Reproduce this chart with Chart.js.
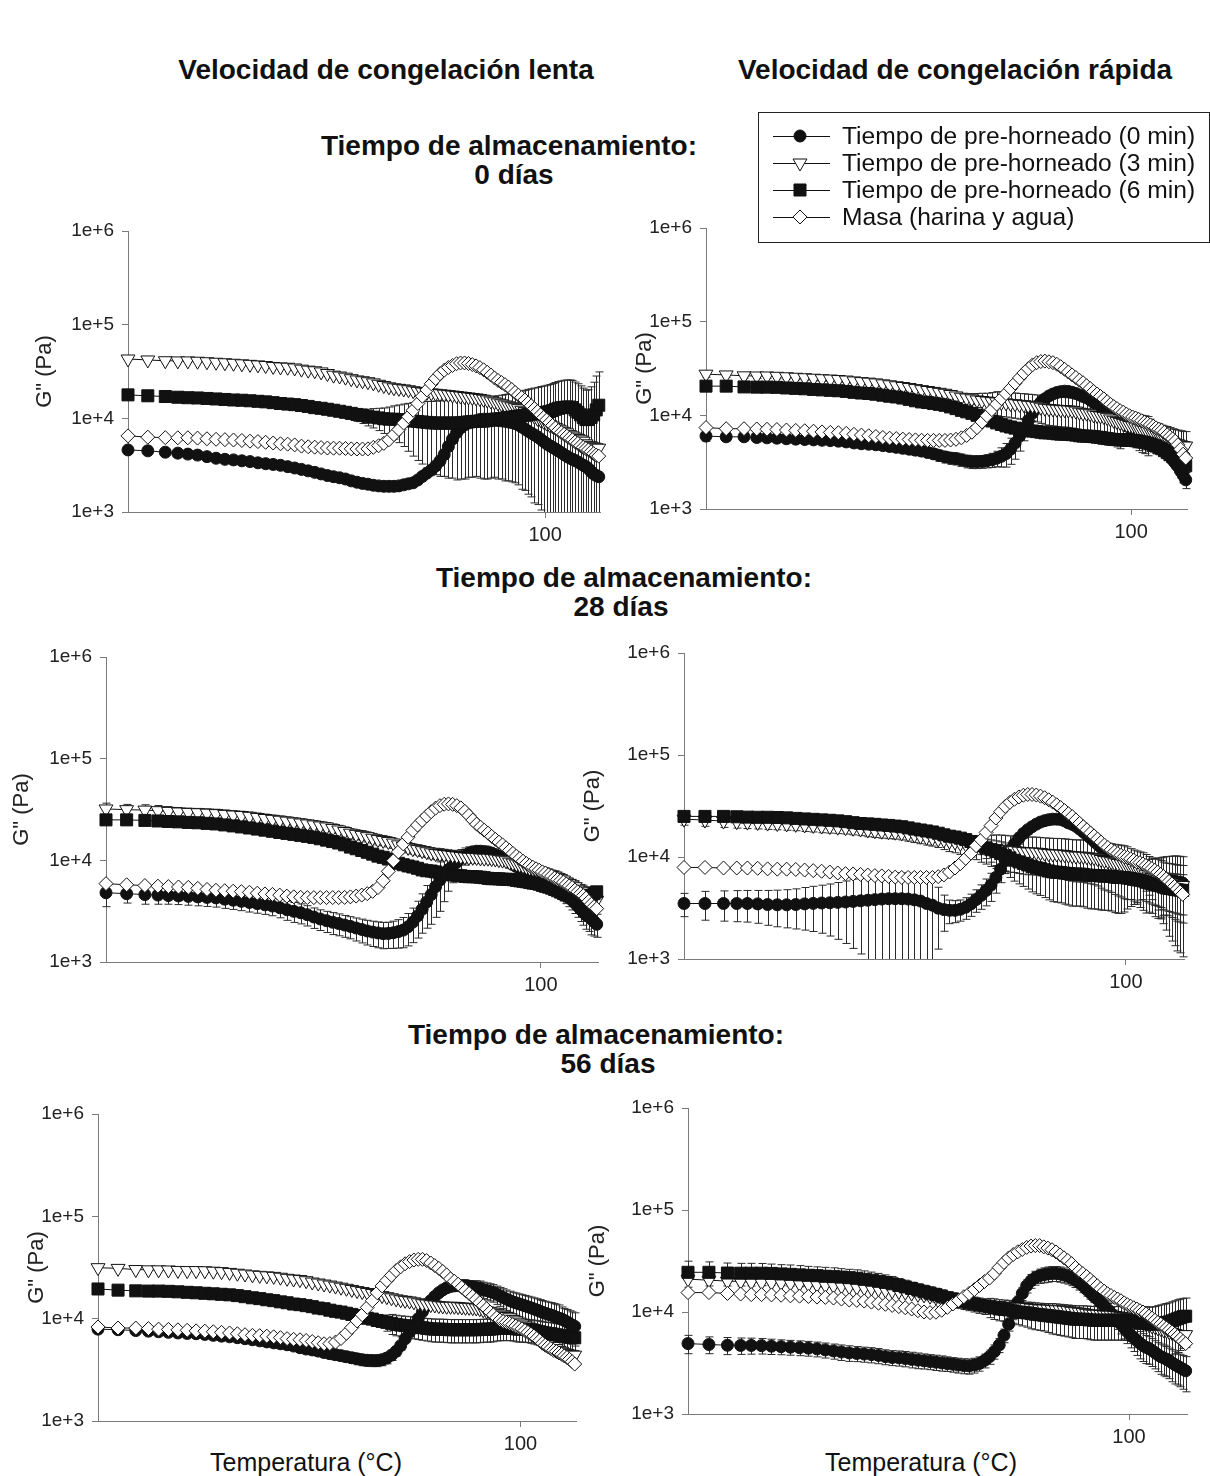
<!DOCTYPE html>
<html lang="es">
<head>
<meta charset="utf-8">
<title>G'' frente a temperatura</title>
<script src="https://cdn.jsdelivr.net/npm/chart.js@4.4.1/dist/chart.umd.min.js"></script>
<style>
  html, body { margin: 0; padding: 0; background: #fff; }
  body { position: relative; width: 1210px; height: 1476px; overflow: hidden;
         font-family: "Liberation Sans", Arial, sans-serif; color: #111; }
  .label { position: absolute; white-space: nowrap; text-align: center; width: 800px; }
  .head { font-weight: bold; font-size: 28px; line-height: 30px; }
  .axis { font-size: 25px; line-height: 28px; }
  canvas { position: absolute; }
</style>
</head>
<body>
<script>
// Temperature of each reading (°C); the first few are further apart
const temps = [25,26.7,28.3,29.5,30.5,31.5,32.5,33.5,34.5,35.5,
  36.5,37.5,38.5,39.5,40.5,41.5,42.5,43.5,44.5,45.5,
  46.5,47.5,48.5,49.5,50.5,51.5,52.5,53.5,54.5,55.5,
  56.5,57.5,58.5,59.5,60.5,61.5,62.5,63.5,64.5,65.5,
  66.5,67.5,68.5,69.5,70.5,71.5,72.5,73.5,74.5,75.5,
  76.5,77.5,78.5,79.5,80.5,81.5,82.5,83.5,84.5,85.5,
  86.5,87.5,88.5,89.5,90.5,91.5,92.5,93.5,94.5,95.5,
  96.5,97.5,98.5,99.5,100.5,101.5,102.5,103.5,104.5,105.5,
  106.5,107.5,108.5,109.5,110.5,111.5,112.5,113.5,114.5,115.5,
  116.5,117.5,118.5,119.5];

const yTickValues = [1e3, 1e4, 1e5, 1e6];
const yTickLabels = ['1e+3', '1e+4', '1e+5', '1e+6'];
const xTickValues = [100];
const xTickLabels = ['100'];

const seriesNames = [
  'Tiempo de pre-horneado (0 min)',
  'Tiempo de pre-horneado (3 min)',
  'Tiempo de pre-horneado (6 min)',
  'Masa (harina y agua)'
];

// ---- slow freezing, 0 days (G'' in Pa) ----
const slow0Pre0 = [4600,4500,4350,4250,4150,4050,3900,3750,3650,3600,
  3520,3450,3350,3280,3220,3150,3050,2950,2850,2750,
  2650,2550,2450,2380,2320,2250,2150,2080,2020,1980,
  1930,1900,1880,1880,1880,1900,1950,2000,2050,2200,
  2400,2600,2800,3100,3500,4100,5000,6000,7000,7900,
  8500,8900,9200,9400,9700,9800,9800,9800,9600,9500,
  9400,9300,9150,9000,8800,8500,8100,7700,7300,6950,
  6650,6350,6000,5650,5350,5100,4900,4700,4500,4300,
  4100,3930,3780,3650,3550,3420,3280,3150,3050,2900,
  2700,2550,2450,2380];
const slow0Pre3 = [43000,42000,41200,41000,41000,40700,40200,39700,39200,38700,
  38200,37700,37200,36600,35800,35400,35100,34500,33500,32700,
  32200,31300,30100,28900,28300,27500,26500,25700,25200,24600,
  23900,23100,22400,21700,21200,20900,20600,20200,19700,19400,
  19100,18900,18700,18500,18300,18100,17900,17700,17500,17300,
  17100,16900,16700,16500,16300,16000,15700,15300,15000,14600,
  14300,13900,13600,13300,13000,12700,12200,11800,11400,11000,
  10500,10000,9700,9300,8900,8600,8300,8000,7700,7500,
  7200,7000,6700,6500,6300,6100,5900,5700,5350,5150,
  5050,4950,4850,4800];
const slow0Pre6 = [17800,17400,17100,16800,16600,16500,16300,16100,15900,15700,
  15600,15400,15200,15000,14700,14400,14200,14000,13700,13400,
  13000,12800,12500,12200,11900,11600,11300,11000,10700,10400,
  10300,10100,9900,9800,9800,9700,9600,9450,9350,9250,
  9150,9050,8950,8900,8900,8900,8900,8900,8900,8950,
  9050,9150,9250,9300,9300,9350,9450,9600,9750,9850,
  9950,10050,10150,10300,10450,10550,10650,10800,10950,11050,
  11150,11300,11450,11550,11650,11850,12100,12500,12800,13000,
  13100,13200,13200,13000,12300,11600,10900,10200,9700,9700,
  10200,10900,12300,13800];
const slow0Pre6Sd = [800,800,800,800,800,800,800,800,800,800,
  800,800,800,800,800,800,850,900,900,900,
  1000,1000,1100,1200,1300,1400,1500,1700,1900,2100,
  2400,2700,3000,3400,3800,4200,4600,5000,5400,5700,
  5900,6100,6200,6400,6500,6500,6600,6600,6700,6700,
  6800,6800,6900,6900,7000,7100,7200,7300,7400,7600,
  7700,7900,8000,8200,8400,8600,8900,9100,9400,9600,
  9900,10100,10400,10600,10900,11100,11400,11600,11900,12100,
  12400,12500,12500,12400,12100,11800,11300,10800,10300,10500,
  11500,13400,16000,17500];
const slow0Masa = [6500,6300,6220,6200,6200,6150,6050,5970,5920,5870,
  5800,5700,5650,5550,5450,5350,5300,5200,5050,4970,
  4920,4870,4820,4800,4800,4770,4720,4700,4700,4720,
  4900,5100,5400,5900,6700,7600,8900,10400,12200,14400,
  17200,20100,23400,26600,29900,32600,34900,36700,38300,39000,
  39000,38500,37500,36300,34800,33000,31000,29000,27000,25400,
  24100,22900,21600,20300,18900,17700,16700,15700,14600,13600,
  12700,11800,10900,10200,9600,9000,8400,7900,7400,7050,
  6750,6450,6150,5900,5600,5400,5100,4900,4750,4600,
  4400,4200,4050,3950];

// ---- fast freezing, 0 days ----
const fast0Pre0 = [6000,5900,5900,5800,5750,5700,5620,5570,5520,5470,
  5420,5370,5300,5200,5070,4970,4920,4850,4750,4650,
  4550,4450,4350,4250,4150,4020,3880,3730,3600,3500,
  3450,3350,3250,3200,3200,3220,3270,3350,3480,3650,
  3900,4350,5050,6000,7300,8800,10600,12300,13800,15000,
  16100,16900,17500,17900,18100,18000,17600,17100,16500,15900,
  15400,14600,13700,12900,12300,11700,11000,10400,9800,9250,
  8750,8300,7800,7400,7050,6750,6450,6200,6000,5800,
  5500,5300,5000,4800,4600,4300,4000,3650,3350,3100,
  2850,2550,2300,2050];
const fast0Pre0Sd = [700,600,600,580,560,550,550,550,550,550,
  520,500,500,500,500,500,500,500,500,500,
  500,500,500,500,500,500,500,500,500,500,
  500,500,500,500,500,500,520,580,650,850,
  1100,1350,1650,1850,1950,2000,2000,1950,1850,1720,
  1580,1500,1500,1420,1280,1200,1200,1200,1200,1200,
  1200,1200,1200,1200,1200,1200,1200,1200,1200,1200,
  1130,1080,1030,980,930,880,830,780,730,680,
  630,600,600,580,530,500,500,480,430,400,
  400,400,400,400];
const fast0Pre3 = [27500,27000,26400,26300,26300,26100,25800,25500,25200,24900,
  24600,24400,24100,23800,23300,22900,22600,22200,21700,21200,
  20700,20300,19800,19300,18800,18400,18000,17600,17200,16700,
  16100,15600,15300,15000,14600,14400,14200,14000,13900,13700,
  13600,13400,13300,13100,13000,12800,12700,12500,12200,11900,
  11800,11700,11600,11500,11500,11400,11300,11100,10800,10600,
  10550,10400,10100,9950,9850,9700,9450,9150,8850,8600,
  8400,8200,8000,7800,7700,7500,7200,7000,6900,6700,
  6600,6400,6300,6100,5850,5700,5600,5400,5200,5050,
  4950,4850,4750,4700];
const fast0Pre3Sd = [2000,1500,1500,1500,1500,1500,1500,1500,1500,1500,
  1500,1500,1500,1500,1500,1500,1500,1500,1500,1500,
  1500,1500,1500,1500,1500,1500,1500,1500,1500,1500,
  1500,1500,1500,2000,2500,2800,3000,3500,4000,4000,
  4000,4000,4000,4000,4000,4000,4000,4000,4000,4000,
  4000,4000,4000,4000,4000,4000,4000,4000,4000,4000,
  4000,4000,4000,4000,4000,4000,4000,4000,4000,4000,
  4000,3500,3000,3000,3000,3000,3000,3000,3000,3000,
  2500,2000,2000,2000,2000,2000,2000,2000,2000,2000,
  2000,2000,2000,2000];
const fast0Pre6 = [20500,20500,20100,20000,20000,19900,19600,19400,19200,18900,
  18700,18500,18300,18000,17600,17300,17100,16800,16400,16000,
  15700,15300,14800,14300,13900,13700,13400,13100,12800,12300,
  11800,11300,10900,10500,10000,9600,9100,8700,8300,8000,
  7700,7500,7300,7100,6950,6850,6800,6700,6600,6500,
  6500,6450,6350,6300,6300,6270,6220,6150,6050,6000,
  6000,5970,5920,5850,5800,5700,5650,5570,5520,5500,
  5500,5470,5420,5400,5400,5350,5300,5200,5150,5050,
  4950,4800,4700,4500,4400,4200,4000,3800,3650,3450,
  3300,3150,3000,2900];
const fast0Masa = [7400,7200,7200,7150,7100,7050,6970,6900,6850,6770,
  6650,6570,6520,6420,6270,6150,6050,5950,5800,5700,
  5650,5570,5520,5470,5420,5400,5400,5400,5400,5450,
  5550,5750,6100,6600,7400,8500,9900,11500,13200,15100,
  17100,19400,22100,25100,28300,31500,34500,36500,37500,37900,
  37300,36500,35100,33100,31000,29000,27000,25300,23700,22300,
  20700,19400,18000,16900,15900,15000,14000,13100,12400,11800,
  11200,10800,10300,9900,9600,9350,9050,8750,8450,8200,
  7900,7650,7350,7100,6900,6600,6200,5900,5600,5300,
  4850,4350,3850,3500];

// ---- slow freezing, 28 days ----
const slow28Pre0 = [4800,4700,4600,4550,4500,4470,4420,4370,4320,4270,
  4150,4050,3950,3850,3750,3650,3550,3420,3270,3150,
  3050,2920,2770,2650,2550,2460,2390,2310,2240,2160,
  2090,2020,1970,1930,1900,1910,1940,1990,2060,2220,
  2470,2840,3300,3900,4600,5500,6400,7300,8100,8900,
  9600,10400,11100,11700,12100,12300,12300,12200,12100,11800,
  11400,10950,10450,9950,9500,9100,8700,8350,8050,7700,
  7400,7100,6900,6700,6450,6200,6000,5800,5600,5350,
  5050,4800,4550,4300,4050,3800,3550,3300,3100,2900,
  2800,2650,2500,2350];
const slow28Pre0Sd = [1300,900,900,850,800,800,800,800,800,800,
  780,760,750,750,730,710,700,700,700,700,
  680,660,630,610,600,600,580,560,550,550,
  550,550,550,550,550,550,580,620,680,780,
  920,1120,1380,1750,2250,2750,3250,3380,3130,2880,
  2630,2380,2130,1880,1630,1430,1280,1150,1050,980,
  920,900,900,900,900,900,900,900,900,900,
  900,900,900,850,800,800,800,800,800,800,
  800,800,800,800,800,800,800,800,800,800,
  800,800,700,600];
const slow28Pre3 = [32000,31500,31200,30800,30300,29900,29600,29400,29100,28800,
  28300,27900,27600,27100,26400,25800,25300,24800,24300,23800,
  23300,22800,22300,21800,21300,20600,19900,19200,18500,18000,
  17600,17100,16500,16000,15700,15300,14800,14200,13800,13400,
  13000,12750,12450,12150,11850,11650,11550,11400,11300,11150,
  11050,10900,10800,10700,10700,10650,10550,10500,10500,10400,
  10300,10150,10050,9900,9600,9400,9200,9000,8800,8600,
  8400,8200,8000,7850,7700,7500,7300,7100,7000,6800,
  6600,6400,6100,5900,5700,5500,5200,5000,4900,4700,
  4500,4300,4200,4050];
const slow28Pre3Sd = [4500,4000,4000,3800,3500,3200,3000,3000,3000,3000,
  3000,2900,2800,2800,2800,2700,2600,2550,2500,2450,
  2400,2350,2300,2250,2200,2200,2200,2100,2000,2000,
  2000,1950,1900,1850,1800,1750,1700,1650,1600,1550,
  1500,1500,1500,1500,1500,1500,1500,1450,1400,1400,
  1400,1350,1300,1300,1300,1250,1200,1200,1200,1200,
  1200,1150,1100,1100,1100,1050,1000,1000,1000,1000,
  1000,950,900,900,900,900,900,900,900,850,
  800,800,800,800,800,800,800,800,800,800,
  800,800,800,800];
const slow28Pre6 = [25000,25000,24700,24400,24100,23900,23600,23400,23100,22800,
  22300,21800,21300,20800,20300,19800,19300,18800,18400,18000,
  17600,17200,16800,16300,15800,15300,14800,14200,13500,13000,
  12500,12000,11500,11000,10700,10300,9750,9350,9050,8800,
  8600,8350,8050,7900,7850,7700,7500,7350,7250,7180,
  7120,7050,6950,6900,6900,6880,6820,6750,6650,6600,
  6600,6580,6520,6500,6500,6450,6350,6280,6220,6150,
  6050,5970,5920,5820,5670,5550,5450,5320,5170,5020,
  4870,4720,4570,4450,4350,4250,4150,4100,4100,4170,
  4320,4500,4700,4900];
const slow28Masa = [5900,5750,5650,5570,5520,5470,5420,5300,5170,5080,
  5020,4970,4920,4850,4750,4670,4620,4550,4450,4380,
  4330,4300,4300,4300,4300,4300,4300,4320,4370,4450,
  4550,4700,4950,5400,6300,7800,9900,12100,14500,16900,
  19700,22200,24700,27300,30100,32600,34500,35600,35900,35500,
  34500,32800,30300,27600,24900,22700,21200,19800,18500,17200,
  16100,15100,14200,13300,12500,11700,11000,10400,9800,9300,
  8900,8550,8250,8000,7700,7500,7200,7000,6700,6500,
  6300,6100,5850,5600,5400,5100,4900,4700,4500,4250,
  3950,3700,3500,3350];

// ---- fast freezing, 28 days ----
const fast28Pre0 = [3500,3500,3500,3500,3500,3470,3420,3400,3400,3420,
  3470,3510,3540,3560,3590,3620,3670,3720,3770,3820,
  3870,3900,3900,3900,3870,3800,3700,3500,3370,3150,
  3050,3000,3000,3070,3220,3470,3820,4200,4700,5300,
  6300,7600,9200,11100,13400,15300,17000,18500,19800,21000,
  22000,22700,23200,23500,23500,23300,22600,21600,20900,20000,
  18800,17600,16400,15300,14300,13300,12400,11600,11000,10400,
  9800,9250,8750,8400,8200,8000,7700,7500,7300,7100,
  7000,6850,6700,6500,6400,6200,6100,6000,5900,5850,
  5800,5700,5650,5550];
const fast28Pre0Sd = [900,1100,1150,1180,1200,1230,1280,1330,1380,1450,
  1550,1650,1750,1880,2030,2200,2400,2600,2800,2920,
  2980,3030,3080,3080,3030,2930,2780,2600,2400,1900,
  1180,780,730,720,770,850,950,1130,1380,1630,
  1880,2000,2000,2000,2000,1950,1850,1750,1630,1500,
  1500,1500,1500,1500,1500,1500,1500,1500,1500,1500,
  1500,1500,1500,1500,1500,1500,1500,1500,1500,1500,
  1500,1500,1500,1500,1500,1500,1500,1630,1880,2130,
  2380,2630,2880,3130,3380,3630,3880,4080,4230,4350,
  4450,4500,4500,4500];
const fast28Pre3 = [23500,23000,22500,22200,22000,21800,21500,21300,21100,20900,
  20600,20400,20100,19900,19600,19400,19100,18800,18400,18100,
  17900,17700,17500,17200,16800,16400,16000,15600,15300,15000,
  14700,14300,14000,13600,13400,13100,12800,12500,12400,12200,
  12100,11900,11800,11600,11550,11400,11300,11200,11200,11150,
  11050,10900,10800,10700,10700,10650,10550,10400,10300,10200,
  10200,10150,10050,9950,9850,9700,9450,9250,9150,9000,
  8800,8650,8550,8400,8200,7950,7700,7450,7200,7000,
  6700,6500,6300,6100,6000,5850,5800,5700,5650,5550,
  5450,5350,5300,5250];
const fast28Pre3Sd = [3000,3000,3000,3000,3000,2950,2850,2800,2800,2800,
  2800,2800,2800,2750,2650,2600,2600,2600,2600,2600,
  2600,2580,2520,2500,2500,2500,2500,2500,2500,2620,
  2880,3000,3000,3000,3000,3120,3380,3620,3880,4120,
  4380,4500,4500,4500,4500,4500,4500,4500,4500,4500,
  4500,4500,4500,4500,4500,4500,4500,4500,4500,4500,
  4500,4500,4500,4500,4500,4500,4500,4500,4500,4500,
  4500,4500,4500,4500,4380,4120,4000,4000,4000,4000,
  3880,3620,3500,3500,3500,3380,3120,3000,3000,3000,
  3000,3000,3000,3000];
const fast28Pre6 = [25000,25000,25000,24800,24600,24500,24500,24400,24200,23900,
  23600,23400,23100,22900,22600,22200,21700,21300,21100,20900,
  20600,20400,20100,19800,19300,18800,18400,18000,17600,17100,
  16500,16000,15700,15300,14800,14200,13500,12900,12300,11800,
  11300,10800,10300,9800,9300,8950,8650,8350,8050,7850,
  7700,7500,7300,7150,7100,7050,6950,6880,6800,6800,
  6800,6750,6650,6600,6600,6570,6520,6500,6500,6450,
  6350,6300,6300,6270,6220,6150,6050,5970,5920,5820,
  5670,5550,5450,5350,5280,5200,5070,4970,4920,4870,
  4820,4770,4720,4700];
const fast28Pre6Sd = [1500,1500,1500,1500,1500,1500,1500,1500,1500,1500,
  1500,1500,1500,1500,1500,1500,1500,1500,1500,1500,
  1500,1500,1500,1500,1500,1500,1500,1500,1500,1500,
  1500,1500,1500,1580,1730,1900,2100,2350,2650,2900,
  3100,3280,3420,3500,3500,3500,3500,3500,3500,3500,
  3500,3500,3500,3500,3500,3500,3500,3500,3500,3500,
  3500,3500,3500,3500,3500,3500,3500,3500,3500,3500,
  3500,3500,3500,3380,3130,2880,2630,2380,2130,2000,
  2000,2000,2000,2000,2000,2000,2000,2000,2000,2000,
  2000,2000,2000,2000];
const fast28Masa = [7900,7900,7800,7800,7800,7750,7650,7600,7600,7550,
  7450,7350,7250,7120,6970,6870,6820,6750,6650,6570,
  6520,6450,6350,6300,6300,6300,6300,6300,6300,6420,
  6670,7120,7800,8600,9700,10900,12900,14700,17400,20300,
  24100,27800,31300,34300,36800,38800,40300,41000,41000,40500,
  39500,38100,36400,34500,32500,30500,28500,26600,24900,23100,
  21400,19800,18500,17200,16100,15000,14000,13100,12400,11750,
  11250,10800,10400,10100,9900,9600,9300,8900,8800,8550,
  8250,7950,7700,7400,7100,6750,6450,6100,5750,5450,
  5150,4850,4550,4300];

// ---- slow freezing, 56 days ----
const slow56Pre0 = [7900,7800,7650,7550,7450,7350,7250,7170,7120,7020,
  6870,6750,6650,6520,6370,6220,6070,5930,5800,5680,
  5560,5400,5200,5050,4950,4820,4670,4550,4450,4350,
  4250,4150,4050,3970,3920,3900,3900,3970,4120,4400,
  4800,5450,6350,7400,8500,10000,11700,13400,15000,16500,
  17900,19100,20000,20600,20900,21000,21000,21000,20600,20400,
  20100,19800,19200,18800,18400,18000,17300,16700,16100,15550,
  15050,14600,14300,13950,13650,13350,13050,12750,12450,12150,
  11850,11550,11300,11050,10850,10600,10350,10100,9900,9600,
  9300,8950,8650,8400];
const slow56Pre0Sd = [500,500,500,500,500,500,500,500,500,500,
  500,500,500,500,500,500,500,500,500,500,
  500,500,500,500,500,500,500,500,500,500,
  500,500,500,500,500,500,500,500,500,500,
  500,500,500,500,500,500,500,500,500,500,
  500,500,500,500,1000,2000,2620,3000,3000,3000,
  3380,3500,3500,3500,3500,3500,3500,3500,3500,3500,
  3500,3500,3500,3500,3500,3500,3500,3500,3500,3500,
  3500,3500,3500,3500,3500,3500,3500,3500,3120,3000,
  3000,3000,3000,3000];
const slow56Pre3 = [31500,31000,30200,30000,30000,29900,29600,29500,29500,29400,
  29100,28800,28300,27800,27300,26800,26500,26200,25900,25400,
  24800,24400,24100,23500,22800,22300,21800,21300,20800,20300,
  19800,19300,18800,18400,18000,17600,17200,16800,16400,16000,
  15600,15300,15100,14900,14600,14300,14000,13900,13700,13600,
  13400,13300,13200,13200,13200,13100,13000,12900,12900,12800,
  12700,12500,12200,11900,11800,11600,11300,11100,10800,10500,
  10200,9800,9500,9100,8850,8500,8100,7700,7400,7050,
  6750,6450,6150,5850,5600,5350,5100,4900,4800,4650,
  4550,4500,4450,4400];
const slow56Pre6 = [19500,19000,18700,18600,18600,18500,18300,18100,17900,17700,
  17500,17300,17100,16800,16400,16000,15700,15300,15000,14600,
  14300,13900,13700,13400,13100,12700,12500,12100,11800,11600,
  11300,11000,10700,10400,10100,9900,9600,9400,9200,9000,
  8800,8650,8550,8450,8350,8250,8150,8050,7950,7900,
  7900,7880,7830,7800,7800,7800,7800,7800,7800,7800,
  7800,7830,7880,7900,7900,7950,8050,8100,8100,8100,
  8100,8050,7950,7900,7900,7880,7830,7750,7650,7550,
  7450,7350,7250,7170,7120,7050,6950,6880,6830,6750,
  6650,6580,6530,6500];
const slow56Pre6Sd = [600,600,600,600,600,600,600,600,600,600,
  600,600,600,600,600,600,600,600,600,600,
  600,600,600,600,600,600,600,600,600,600,
  600,600,600,600,600,600,600,950,1650,2000,
  2000,2000,2000,2000,2000,2000,2000,2000,2000,2000,
  2000,2000,2000,2000,2000,2000,2000,2000,2000,2000,
  2000,2000,2000,2000,2000,2000,2000,2000,2000,2000,
  2000,2000,2000,2000,2000,2000,2000,2000,2000,2000,
  2000,2000,2000,2000,2000,2000,2000,2000,2000,2000,
  2000,2000,2000,2000];
const slow56Masa = [8300,8100,8100,8000,7900,7850,7780,7700,7600,7550,
  7450,7350,7250,7120,6970,6870,6820,6750,6650,6520,
  6380,6280,6220,6120,5980,5820,5680,5700,5900,6400,
  7200,8200,9500,10900,12900,15000,17900,20900,23600,26500,
  29500,32100,34400,36100,37400,38000,38000,37000,35000,33000,
  31000,28900,26800,24500,23200,21700,20200,18800,17600,16500,
  15400,14300,13400,12500,11600,10900,10200,9700,9400,9200,
  9000,8750,8450,8200,7950,7650,7350,7050,6750,6400,
  6100,5750,5500,5300,5100,4900,4780,4620,4480,4320,
  4170,4000,3800,3600];

// ---- fast freezing, 56 days ----
const fast56Pre0 = [4900,4800,4720,4700,4700,4680,4620,4570,4520,4470,
  4420,4350,4250,4150,4050,3970,3920,3870,3820,3750,
  3650,3580,3550,3500,3430,3370,3320,3270,3220,3170,
  3120,3070,3020,2980,2960,3020,3130,3350,3650,4100,
  4750,5900,7600,9800,12500,15200,18100,20200,21700,22700,
  23200,23600,23900,23900,23600,23100,22400,21500,20500,19300,
  18100,16700,15500,14300,13400,12400,11500,10600,9700,8950,
  8250,7600,6950,6400,5950,5600,5250,4950,4700,4500,
  4400,4200,4000,3800,3650,3550,3450,3320,3170,3050,
  2950,2850,2750,2650];
const fast56Pre0Sd = [1000,900,900,860,840,810,790,760,750,740,
  730,720,710,700,700,690,660,650,650,640,
  610,600,600,600,600,590,560,550,550,540,
  510,500,500,500,500,500,500,520,580,650,
  750,900,1100,1400,1800,2250,2750,3130,3380,3630,
  3880,4000,4000,4000,4000,3880,3630,3380,3130,2880,
  2630,2380,2130,1950,1850,1750,1630,1500,1500,1500,
  1500,1500,1500,1500,1500,1500,1500,1480,1430,1380,
  1330,1280,1230,1200,1200,1180,1130,1100,1100,1080,
  1030,1000,1000,1000];
const fast56Pre3 = [21000,20500,20100,19900,19600,19500,19400,19300,19100,18900,
  18700,18500,18300,18100,17900,17700,17500,17300,17100,16800,
  16400,16100,15900,15600,15300,14900,14700,14300,14000,13600,
  13400,13100,12800,12500,12400,12200,12100,11900,11800,11600,
  11550,11400,11300,11200,11200,11150,11050,10900,10800,10700,
  10700,10650,10550,10500,10500,10400,10300,10150,10050,9950,
  9850,9700,9550,9500,9500,9450,9350,9300,9300,9250,
  9150,9050,8950,8800,8600,8400,8200,8000,7900,7700,
  7500,7300,7200,7000,6900,6700,6600,6400,6300,6150,
  6050,6000,6000,6000];
const fast56Pre6 = [24500,24500,24100,24000,24000,24000,23900,23600,23400,23100,
  22900,22700,22400,22200,22000,21700,21400,20900,20500,20000,
  19500,18900,18200,17600,17000,16400,15800,15300,14800,14300,
  13800,13400,12900,12600,12300,12000,11700,11450,11200,10950,
  10700,10600,10500,10250,10000,9900,9800,9650,9500,9400,
  9300,9200,9100,9000,8900,8800,8700,8600,8500,8500,
  8500,8450,8350,8300,8300,8300,8300,8300,8300,8300,
  8300,8300,8300,8250,8150,8050,7950,7850,7800,7750,
  7650,7600,7600,7650,7750,7850,7900,8000,8200,8400,
  8600,8800,9000,9100];
const fast56Pre6Sd = [7000,6500,6100,6000,6000,5900,5600,5500,5500,5400,
  5100,5000,5000,4900,4600,4500,4500,4400,4100,3900,
  3600,3400,3100,2900,2600,2500,2500,2400,2300,2200,
  2000,2000,2000,2000,2000,2000,2000,2000,2400,2500,
  2500,2500,2500,2500,2500,2600,2700,2800,2800,2800,
  2800,2900,3000,3000,3000,3000,3000,3000,3000,3000,
  3000,3000,3000,3000,3000,3000,3000,3000,3000,3000,
  3000,3000,3000,3000,3000,3000,3000,3100,3400,3500,
  3500,3600,3700,3900,4000,4100,4200,4300,4400,4500,
  4600,4600,4600,4600];
const fast56Masa = [15500,15500,15200,15000,14800,14800,14700,14600,14400,14300,
  14200,14000,13900,13700,13400,13100,13000,12800,12500,12200,
  11900,11600,11300,11000,10700,10300,10000,9850,9950,10400,
  11100,12000,13000,14100,15200,16600,18200,19900,21500,24000,
  27300,30600,33900,36600,38900,41000,43000,44300,44800,44800,
  43500,42300,40800,38800,36300,34000,32000,29800,27300,25300,
  23800,22300,20800,19400,18100,16900,16000,15100,14500,13900,
  13400,12900,12300,11800,11400,11000,10700,10300,10000,9600,
  9100,8700,8300,7900,7600,7250,6950,6650,6350,6050,
  5750,5450,5150,4900];

const FONT = '"Liberation Sans", Arial, sans-serif';
const INK = '#111';
const AXIS = '#7a7a7a';
Chart.defaults.font.family = FONT;

// marker look per series: filled circle, open down-triangle, filled square, open diamond
const markerStyles = [
  { pointStyle: 'circle',   radius: 6,   rotation: 0,   fill: INK },
  { pointStyle: 'triangle', radius: 8,   rotation: 180, fill: '#fff' },
  { pointStyle: 'rect',     radius: 8.5, rotation: 0,   fill: INK },
  { pointStyle: 'rectRot',  radius: 7,   rotation: 0,   fill: '#fff' }
];

// plot-area placement of each panel on the page (axis pixels)
const panels = [
  { left: 128, right: 600,  top: 231,  bottom: 512,  yW: 100, padTop: 20,  padRight: 12,
    series: [slow0Pre0, slow0Pre3, slow0Pre6, slow0Masa], errors: [null, null, slow0Pre6Sd, null] },
  { left: 706, right: 1187, top: 228,  bottom: 509,  yW: 78,  padTop: 120, padRight: 23, legend: true,
    series: [fast0Pre0, fast0Pre3, fast0Pre6, fast0Masa], errors: [fast0Pre0Sd, fast0Pre3Sd, null, null] },
  { left: 106, right: 598,  top: 657,  bottom: 962,  yW: 101, padTop: 20,  padRight: 12,
    series: [slow28Pre0, slow28Pre3, slow28Pre6, slow28Masa], errors: [slow28Pre0Sd, slow28Pre3Sd, null, null] },
  { left: 684, right: 1184, top: 653,  bottom: 959,  yW: 108, padTop: 20,  padRight: 12,
    series: [fast28Pre0, fast28Pre3, fast28Pre6, fast28Masa], errors: [fast28Pre0Sd, fast28Pre3Sd, fast28Pre6Sd, null] },
  { left: 98,  right: 576,  top: 1114, bottom: 1421, yW: 78,  padTop: 20,  padRight: 12,
    series: [slow56Pre0, slow56Pre3, slow56Pre6, slow56Masa], errors: [slow56Pre0Sd, null, slow56Pre6Sd, null] },
  { left: 688, right: 1187, top: 1108, bottom: 1414, yW: 107, padTop: 20,  padRight: 12,
    series: [fast56Pre0, fast56Pre3, fast56Pre6, fast56Masa], errors: [fast56Pre0Sd, null, fast56Pre6Sd, null] }
];

const X_AXIS_H = 40;

const texts = [
  { text: 'Velocidad de congelación lenta',  x: 386, y: 70,   cls: 'head' },
  { text: 'Velocidad de congelación rápida', x: 955, y: 70,   cls: 'head' },
  { text: 'Tiempo de almacenamiento:',       x: 509, y: 146,  cls: 'head' },
  { text: '0 días',                          x: 514, y: 175,  cls: 'head' },
  { text: 'Tiempo de almacenamiento:',       x: 624, y: 578,  cls: 'head' },
  { text: '28 días',                         x: 621, y: 607,  cls: 'head' },
  { text: 'Tiempo de almacenamiento:',       x: 596, y: 1035, cls: 'head' },
  { text: '56 días',                         x: 608, y: 1064, cls: 'head' },
  { text: 'Temperatura (°C)',                x: 306, y: 1462, cls: 'axis' },
  { text: 'Temperatura (°C)',                x: 921, y: 1462, cls: 'axis' }
];

texts.forEach(t => {
  const d = document.createElement('div');
  d.className = 'label ' + t.cls;
  d.textContent = t.text;
  const lh = t.cls === 'head' ? 30 : 28;
  d.style.left = (t.x - 400) + 'px';
  d.style.top = (t.y - lh / 2) + 'px';
  document.body.appendChild(d);
});

function drawMarker(ctx, style, x, y) {
  const r = style.radius;
  ctx.beginPath();
  if (style.pointStyle === 'circle') {
    ctx.arc(x, y, r, 0, Math.PI * 2);
  } else if (style.pointStyle === 'triangle') {
    ctx.moveTo(x, y + r);
    ctx.lineTo(x - r * 0.866, y - r / 2);
    ctx.lineTo(x + r * 0.866, y - r / 2);
    ctx.closePath();
  } else if (style.pointStyle === 'rect') {
    const h = r * Math.SQRT1_2;
    ctx.rect(x - h, y - h, 2 * h, 2 * h);
  } else {
    ctx.moveTo(x, y - r);
    ctx.lineTo(x + r, y);
    ctx.lineTo(x, y + r);
    ctx.lineTo(x - r, y);
    ctx.closePath();
  }
  ctx.fillStyle = style.fill;
  ctx.fill();
  ctx.strokeStyle = INK;
  ctx.lineWidth = 1;
  ctx.stroke();
}

// vertical error bars with caps, drawn under the markers
function errorBars(errorSets) {
  return {
    id: 'errorBars',
    beforeDatasetsDraw(chart) {
      const { ctx, chartArea } = chart;
      const xs = chart.scales.x, ys = chart.scales.y;
      ctx.save();
      ctx.beginPath();
      ctx.rect(chartArea.left - 20, chartArea.top - 40, chartArea.width + 40, chartArea.height + 40);
      ctx.clip();
      ctx.strokeStyle = '#2a2a2a';
      ctx.lineWidth = 1;
      chart.data.datasets.forEach((ds, di) => {
        const errs = errorSets[di];
        if (!errs) return;
        ds.data.forEach((p, i) => {
          const e = errs[i];
          if (!e) return;
          const px = Math.round(xs.getPixelForValue(p.x)) + 0.5;
          const top = ys.getPixelForValue(p.y + e);
          const low = p.y - e;
          const inRange = low >= ys.min;
          const bottom = inRange ? ys.getPixelForValue(low) : chartArea.bottom;
          ctx.beginPath();
          ctx.moveTo(px, top);
          ctx.lineTo(px, bottom);
          ctx.moveTo(px - 4, top);
          ctx.lineTo(px + 4, top);
          if (inRange) {
            ctx.moveTo(px - 4, bottom);
            ctx.lineTo(px + 4, bottom);
          }
          ctx.stroke();
        });
      });
      ctx.restore();
    }
  };
}

// boxed legend above the fast-freezing panel
function legendBox(canvasLeft, canvasTop) {
  return {
    id: 'legendBox',
    afterDraw(chart) {
      const ctx = chart.ctx;
      const bx = 758 - canvasLeft, by = 112 - canvasTop;
      ctx.save();
      ctx.strokeStyle = '#222';
      ctx.lineWidth = 1;
      ctx.strokeRect(bx + 0.5, by + 0.5, 451, 130);
      ctx.font = '24.6px ' + FONT;
      ctx.textBaseline = 'middle';
      seriesNames.forEach((name, i) => {
        const y = by + 24 + 27 * i;
        ctx.beginPath();
        ctx.moveTo(bx + 15, y + 0.5);
        ctx.lineTo(bx + 72, y + 0.5);
        ctx.strokeStyle = INK;
        ctx.stroke();
        drawMarker(ctx, markerStyles[i], bx + 42, y);
        ctx.fillStyle = INK;
        ctx.fillText(name, bx + 84, y + 1);
      });
      ctx.restore();
    }
  };
}

function buildPanel(p) {
  const canvas = document.createElement('canvas');
  const w = p.yW + (p.right - p.left) + p.padRight;
  const h = p.padTop + (p.bottom - p.top) + X_AXIS_H;
  const cl = p.left - p.yW, ct = p.top - p.padTop;
  canvas.width = w;
  canvas.height = h;
  canvas.style.left = cl + 'px';
  canvas.style.top = ct + 'px';
  canvas.style.width = w + 'px';
  canvas.style.height = h + 'px';
  document.body.appendChild(canvas);

  const datasets = p.series.map((vals, i) => ({
    label: seriesNames[i],
    data: temps.map((t, j) => ({ x: t, y: vals[j] })),
    order: 4 - i,
    showLine: true,
    borderColor: INK,
    borderWidth: 1,
    pointStyle: markerStyles[i].pointStyle,
    pointRadius: markerStyles[i].radius,
    pointRotation: markerStyles[i].rotation,
    pointBackgroundColor: markerStyles[i].fill,
    pointBorderColor: INK,
    pointBorderWidth: 1,
    clip: false
  }));

  const plugins = [errorBars(p.errors)];
  if (p.legend) plugins.push(legendBox(cl, ct));

  const axisGrid = { drawOnChartArea: false, drawTicks: true, tickLength: 6, color: AXIS, lineWidth: 1 };
  const axisBorder = { display: true, color: AXIS, width: 1 };

  return new Chart(canvas, {
    type: 'line',
    data: { datasets },
    plugins,
    options: {
      responsive: false,
      animation: false,
      devicePixelRatio: 1,
      events: [],
      layout: { padding: { top: p.padTop, right: p.padRight, left: 0, bottom: 0 } },
      plugins: { legend: { display: false }, tooltip: { enabled: false } },
      scales: {
        x: {
          type: 'logarithmic',
          position: 'bottom',
          min: 25,
          max: 120,
          afterBuildTicks: s => { s.ticks = xTickValues.map(v => ({ value: v })); },
          afterFit: s => { s.height = X_AXIS_H; },
          ticks: {
            autoSkip: false, maxRotation: 0, padding: 5, color: '#222',
            font: { size: 20 },
            callback: (v, i) => xTickLabels[i]
          },
          grid: axisGrid,
          border: axisBorder
        },
        y: {
          type: 'logarithmic',
          position: 'left',
          min: 1e3,
          max: 1e6,
          afterBuildTicks: s => { s.ticks = yTickValues.map(v => ({ value: v })); },
          afterFit: s => { s.width = p.yW; },
          ticks: {
            autoSkip: false, padding: 8, color: '#222',
            font: { size: 19 },
            callback: (v, i) => yTickLabels[i]
          },
          grid: axisGrid,
          border: axisBorder,
          title: {
            display: true,
            text: 'G" (Pa)',
            color: '#222',
            font: { size: 22 },
            padding: { top: 4, bottom: 4 }
          }
        }
      }
    }
  });
}

panels.forEach(buildPanel);
</script>
</body>
</html>
